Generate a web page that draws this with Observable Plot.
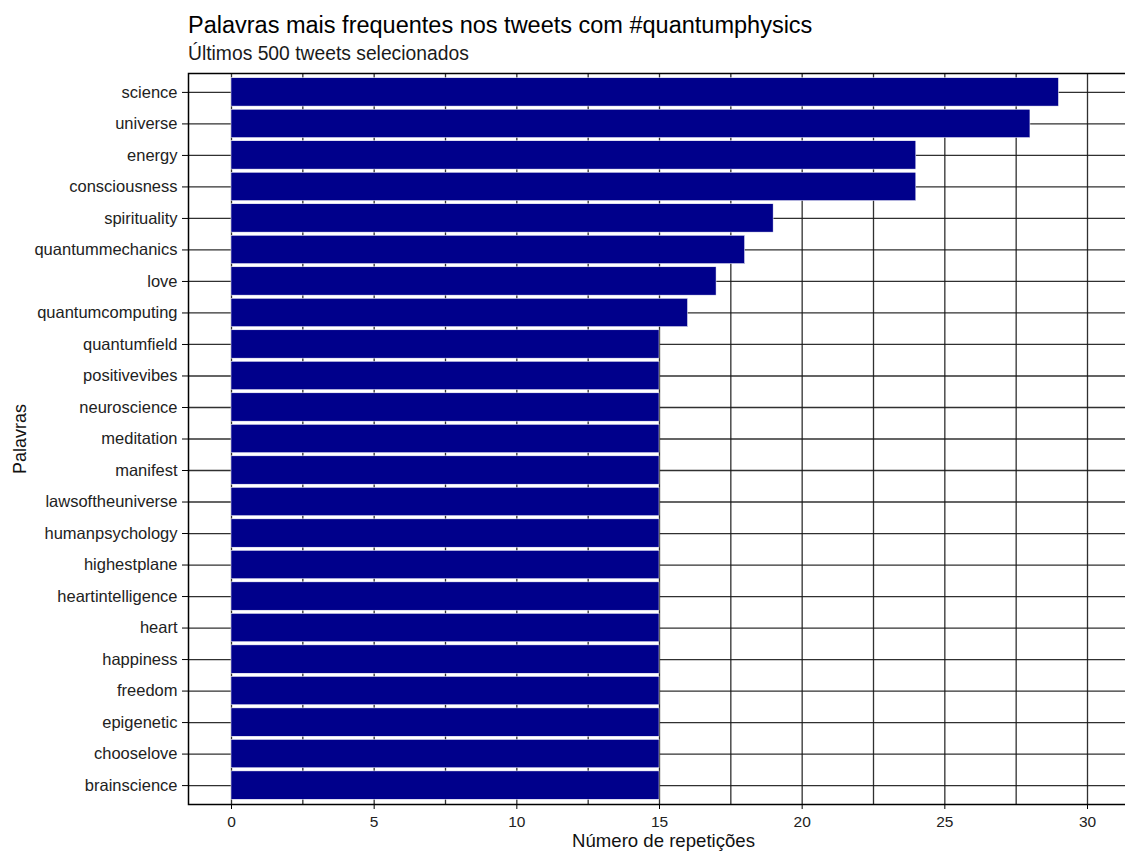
<!DOCTYPE html>
<html>
<head>
<meta charset="utf-8">
<script src="https://cdn.jsdelivr.net/npm/d3@7"></script>
<script src="https://cdn.jsdelivr.net/npm/@observablehq/plot@0.6"></script>
<style>
  html, body { margin: 0; padding: 0; background: white; overflow: hidden; }
  #wrap { position: relative; width: 1125px; height: 854px; font-family: "Liberation Sans", Arial, sans-serif; }
  #title { position: absolute; left: 188px; top: 12px; font-size: 23.5px; line-height: 27px; color: #000; white-space: nowrap; }
  #subtitle { position: absolute; left: 188px; top: 43px; font-size: 19.3px; line-height: 22px; color: #1a1a1a; white-space: nowrap; }
  #chart { position: absolute; left: 0; top: 0; }
</style>
</head>
<body>
<div id="wrap">
  <div id="chart"></div>
  <div id="title">Palavras mais frequentes nos tweets com #quantumphysics</div>
  <div id="subtitle">Últimos 500 tweets selecionados</div>
</div>
<script>
const words = ["science","universe","energy","consciousness","spirituality","quantummechanics","love","quantumcomputing","quantumfield","positivevibes","neuroscience","meditation","manifest","lawsoftheuniverse","humanpsychology","highestplane","heartintelligence","heart","happiness","freedom","epigenetic","chooselove","brainscience"];
const counts = [29,28,24,24,19,18,17,16,15,15,15,15,15,15,15,15,15,15,15,15,15,15,15];
const xTicks = [0,5,10,15,20,25,30];
const xGrid = [0,2.5,5,7.5,10,12.5,15,17.5,20,22.5,25,27.5,30];

const data = words.map((w, i) => ({word: w, n: counts[i]}));

const chart = Plot.plot({
  width: 1125,
  height: 854,
  marginLeft: 188,
  marginRight: -3,
  marginTop: 73,
  marginBottom: 50,
  style: {fontFamily: "Liberation Sans, Arial, sans-serif", background: "white", overflow: "visible"},
  x: {domain: [0, 30], range: [231, 1087]},
  y: {domain: words, paddingInner: 0.1, paddingOuter: 0.15, round: false},
  marks: [
    Plot.ruleX(xGrid, {stroke: "#1a1a1a", strokeWidth: 1.3, strokeOpacity: 0.9}),
    Plot.gridY({stroke: "#1a1a1a", strokeWidth: 1.3, strokeOpacity: 0.9}),
    Plot.barX(data, {x: "n", y: "word", fill: "#00008B", stroke: "white", strokeWidth: 0.5}),
    Plot.frame({stroke: "#000", strokeWidth: 1.5}),
    Plot.axisX({ticks: xTicks, tickSize: 5, tickPadding: 6, fontSize: 15.5, stroke: "#000", color: "#222", label: null}),
    Plot.axisY({tickSize: 6, tickPadding: 5, fontSize: 16.5, stroke: "#000", color: "#222", label: null}),
    Plot.text(["Número de repetições"], {frameAnchor: "bottom", dy: 42, fontSize: 18.6, fill: "#111", dx: 5}),
    Plot.text(["Palavras"], {frameAnchor: "left", textAnchor: "middle", dx: -168, rotate: -90, fontSize: 18, fill: "#111"})
  ]
});
document.getElementById("chart").appendChild(chart);
</script>
</body>
</html>
